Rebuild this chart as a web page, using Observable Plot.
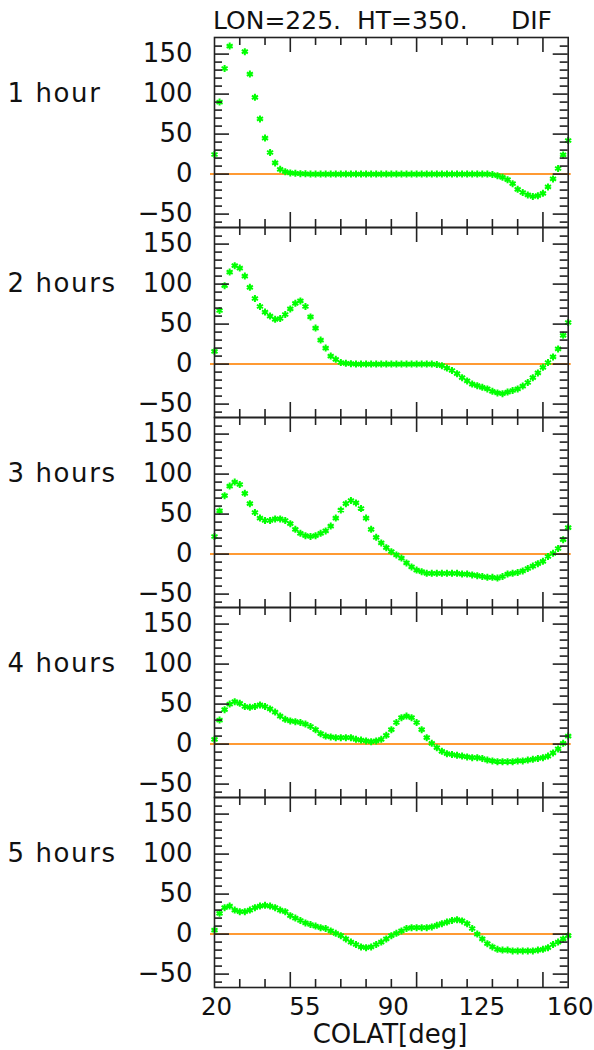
<!DOCTYPE html>
<html><head><meta charset="utf-8">
<script src="https://cdn.jsdelivr.net/npm/d3@7"></script>
<script src="https://cdn.jsdelivr.net/npm/@observablehq/plot@0.6"></script>
<style>
body{margin:0;background:#fff;}
#wrap{position:relative;width:594px;height:1050px;font-family:"DejaVu Sans",sans-serif;color:#111;}
.t{position:absolute;white-space:pre;line-height:0.8;}
g[aria-label="text"] text{letter-spacing:1.6px;}
</style></head><body><div id="wrap"></div>
<script>
// ---- data ----
const panels = ["1 hour", "2 hours", "3 hours", "4 hours", "5 hours"];
const colat = [20,22,24,26,28,30,32,34,36,38,40,42,44,46,48,50,52,54,56,58,
  60,62,64,66,68,70,72,74,76,78,80,82,84,86,88,90,92,94,96,98,
  100,102,104,106,108,110,112,114,116,118,120,122,124,126,128,130,132,134,136,138,
  140,142,144,146,148,150,152,154,156,158,160];
const dif1h = [24.5,90,132,160,185,180,153,125,96,69,
  45,27,14,6,3,1.5,1,0.5,0.3,0,
  0,0,0,0,0,0,0,0,0,0,
  0,0,0,0,0,0,0,0,0,0,
  0,0,0,0,0,0,0,0,0,0,
  0,0,0,0,0,-0.5,-2,-4,-7,-12,
  -19,-23,-26,-28,-27,-24,-16,-6,7,24,
  42];
const dif2h = [16,67,98,115,123,120,110,96,82,72,
  65,60,56,57,62,69,76,79,72,59,
  45,30,20,10,6,2,1,0.5,0,0,
  0,0,0,0,0,0,0,0,0,0,
  0,0,0,0,-0.5,-2,-5,-8,-12,-17,
  -21,-25,-27,-29,-31,-34,-36,-37,-35,-33,
  -31,-27.5,-23,-17,-11,-4,2,9,19,36,
  52];
const dif3h = [22,54,73,85,90,87,76,63,52,45,
  42,42,44,44,42,38,31,26,23,22,
  23,26,29,35,45,55,63,67,64,57,
  45,31,21,14,8,3,-1,-5,-11,-16,
  -20,-22,-24,-24,-24,-24,-24,-24,-24,-25,
  -25,-26,-27,-28,-29,-29,-30,-28,-25,-24,
  -23,-21,-18,-15,-12,-9,-3,1,7,18,
  33];
const dif4h = [6,30,43,50,53,51,47,46,47,49,
  47,44,40,35,31,29,28,27,25,22,
  18,13,10,9,8,8,8,8,6,5,
  4,3,4,6,11,18,27,33,35,33,
  27,18,8,1,-4.5,-9,-12,-13,-14,-15,
  -16,-17,-17,-18,-20,-21,-22,-22,-22,-22,
  -21,-21,-20,-19,-18,-17,-15,-11,-6,1,
  10];
const dif5h = [5,26,33,35,30,28,28,30,33,35,
  36,35,33,30,28,23,20,17,14,12,
  10,8,7,4,1,-2,-6,-10,-13,-16,
  -17,-16,-13,-10,-6,-2,1,4,7,8,
  8,8,8,9,11,13,15,17,18,16.5,
  13,7,0,-6,-12,-16,-19,-20,-20,-21,
  -21,-21,-21,-21,-20,-19,-17,-13,-10,-6,
  -2];
const xTickLabels = [20, 55, 90, 125, 160];
const yTickLabels = [-50, 0, 50, 100, 150];
const xMajorTicks = [50, 100, 150];
const xMinorTicks = [30, 40, 60, 70, 80, 90, 110, 120, 130, 140];
const yMajorTicks = [-50, 0, 50, 100, 150];
const yMinorTicks = [-60, -40, -30, -20, -10, 10, 20, 30, 40, 60, 70, 80, 90, 110, 120, 130, 140, 160];

// ---- layout ----
const W = 594, H = 1050;
const mTop = 36.7, mBottom = 63.3, mLeft = 214, mRight = 26.3;
const frameW = W - mLeft - mRight;
const facetH = (H - mTop - mBottom) / panels.length;
const yDomain = [-66.75, 170.75];
const ink = "#222", green = "#00ff00", orange = "#ff9a33";

const series = [dif1h, dif2h, dif3h, dif4h, dif5h];
const rows = [];
panels.forEach((p, i) => series[i].forEach((v, j) => rows.push({panel: p, colat: colat[j], dif: v})));

const tk = {stroke: ink, strokeWidth: 1.6};
const plot = Plot.plot({
  width: W, height: H,
  marginTop: mTop, marginBottom: mBottom, marginLeft: mLeft, marginRight: mRight,
  style: {fontFamily: "DejaVu Sans, sans-serif", fontSize: "26px", color: "#111", background: "white", overflow: "visible"},
  x: {domain: [20, 160]},
  y: {domain: yDomain},
  fy: {domain: panels, padding: 0, axis: null},
  marks: [
    Plot.ruleY([0], {stroke: orange, strokeWidth: 2, insetLeft: -4, insetRight: -3}),
    Plot.dot(rows, {x: "colat", y: "dif", fy: "panel", symbol: "asterisk", r: 3.3, stroke: green, strokeWidth: 2,
      filter: d => d.dif <= yDomain[1] && d.dif >= yDomain[0]}),
    Plot.frame(tk),
    Plot.tickY(yMajorTicks, {y: d => d, ...tk, insetRight: frameW - 15}),
    Plot.tickY(yMajorTicks, {y: d => d, ...tk, insetLeft: frameW - 15}),
    Plot.tickY(yMinorTicks, {y: d => d, ...tk, insetRight: frameW - 8}),
    Plot.tickY(yMinorTicks, {y: d => d, ...tk, insetLeft: frameW - 8}),
    Plot.tickX(xMajorTicks, {x: d => d, ...tk, insetBottom: facetH - 15}),
    Plot.tickX(xMajorTicks, {x: d => d, ...tk, insetTop: facetH - 15}),
    Plot.tickX(xMinorTicks, {x: d => d, ...tk, insetBottom: facetH - 8}),
    Plot.tickX(xMinorTicks, {x: d => d, ...tk, insetTop: facetH - 8}),
    Plot.axisY(yTickLabels, {tickSize: 0, tickPadding: 22, fontSize: 26, label: null, fill: "#111"}),
    Plot.axisX(xTickLabels, {tickSize: 0, tickPadding: 10, dx: 2, fontSize: 24.5, label: null, fill: "#111"}),
    Plot.text(panels, {fy: d => d, text: d => d, y: 100, frameAnchor: "left", dx: -207, textAnchor: "start", fontSize: 26, fill: "#111"})
  ]
});

const wrap = document.getElementById("wrap");
wrap.appendChild(plot);
function addText(txt, left, top, size, center) {
  const s = document.createElement("div");
  s.className = "t";
  s.textContent = txt;
  s.style.fontSize = size + "px";
  s.style.top = top + "px";
  if (center) { s.style.left = (left - 200) + "px"; s.style.width = "400px"; s.style.textAlign = "center"; }
  else s.style.left = left + "px";
  wrap.appendChild(s);
}
addText("LON=225.", 213, 11.4, 25);
addText("HT=350.", 357, 11.4, 25);
addText("DIF", 511, 11.4, 25);
addText("COLAT[deg]", 390, 1023.6, 26, true);
</script></body></html>
